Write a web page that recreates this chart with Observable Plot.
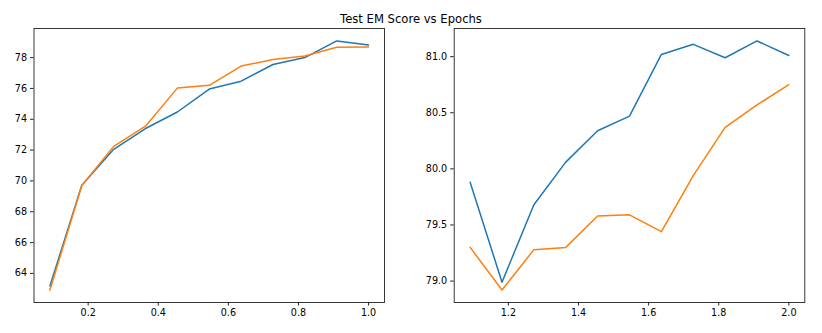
<!DOCTYPE html>
<html>
<head>
<meta charset="utf-8">
<script src="https://cdn.jsdelivr.net/npm/d3@7"></script>
<script src="https://cdn.jsdelivr.net/npm/@observablehq/plot@0.6"></script>
<style>
  html, body { margin: 0; padding: 0; background: #fff; }
  #wrap { position: relative; width: 822px; height: 333px; font-family: "DejaVu Sans", sans-serif; }
  #title { position: absolute; left: 0; width: 822px; top: 12px; text-align: center; font-size: 11.6px; color: #000; line-height: 14px; }
  .panel { position: absolute; top: 0; }
</style>
</head>
<body>
<div id="wrap">
  <div id="title">Test EM Score vs Epochs</div>
  <div id="left" class="panel" style="left:0px"></div>
  <div id="right" class="panel" style="left:411px"></div>
</div>
<script>
// ---- data ----
const epochsLeft = [0.0909, 0.1818, 0.2727, 0.3636, 0.4545, 0.5455, 0.6364, 0.7273, 0.8182, 0.9091, 1.0];
const blueLeft   = [63.18, 69.72, 72.05, 73.40, 74.47, 75.96, 76.47, 77.55, 78.00, 79.08, 78.82];
const orangeLeft = [62.92, 69.70, 72.24, 73.55, 76.02, 76.20, 77.45, 77.88, 78.10, 78.67, 78.68];

const epochsRight = [1.0909, 1.1818, 1.2727, 1.3636, 1.4545, 1.5455, 1.6364, 1.7273, 1.8182, 1.9091, 2.0];
const blueRight   = [79.88, 78.99, 79.68, 80.06, 80.34, 80.47, 81.02, 81.11, 80.99, 81.14, 81.01];
const orangeRight = [79.30, 78.92, 79.28, 79.30, 79.58, 79.59, 79.44, 79.94, 80.37, 80.57, 80.75];

const xTicksLeft  = [0.2, 0.4, 0.6, 0.8, 1.0];
const yTicksLeft  = [64, 66, 68, 70, 72, 74, 76, 78];
const xTicksRight = [1.2, 1.4, 1.6, 1.8, 2.0];
const yTicksRight = [79.0, 79.5, 80.0, 80.5, 81.0];

const BLUE = "#1f77b4", ORANGE = "#ff7f0e";

function padded(values) {
  const [a, b] = d3.extent(values);
  const m = (b - a) * 0.05;
  return [a - m, b + m];
}

function panel(xs, ys1, ys2, xt, yt, yfmt, margins) {
  const rows1 = xs.map((x, i) => ({x, y: ys1[i]}));
  const rows2 = xs.map((x, i) => ({x, y: ys2[i]}));
  return Plot.plot({
    width: 411,
    height: 333,
    marginLeft: margins[0],
    marginRight: margins[1],
    marginTop: 28,
    marginBottom: 31,
    style: { fontFamily: "DejaVu Sans, sans-serif", fontSize: "9.6px", color: "#000", background: "transparent", overflow: "visible" },
    x: { domain: padded(xs) },
    y: { domain: padded(ys1.concat(ys2)) },
    marks: [
      Plot.lineY(rows1, {x: "x", y: "y", stroke: BLUE, strokeWidth: 1.5}),
      Plot.lineY(rows2, {x: "x", y: "y", stroke: ORANGE, strokeWidth: 1.5}),
      Plot.frame({stroke: "#222", strokeWidth: 0.9}),
      Plot.axisX({ticks: xt, tickFormat: d3.format(".1f"), tickSize: 3.5, tickPadding: 3.5, label: null, stroke: "#222"}),
      Plot.axisY({ticks: yt, tickFormat: yfmt, tickSize: 3.5, tickPadding: 3.5, label: null, stroke: "#222"})
    ]
  });
}

document.getElementById("left").append(
  panel(epochsLeft, blueLeft, orangeLeft, xTicksLeft, yTicksLeft, d3.format("d"), [33.5, 27])
);
document.getElementById("right").append(
  panel(epochsRight, blueRight, orangeRight, xTicksRight, yTicksRight, d3.format(".1f"), [42.7, 17.7])
);
</script>
</body>
</html>
